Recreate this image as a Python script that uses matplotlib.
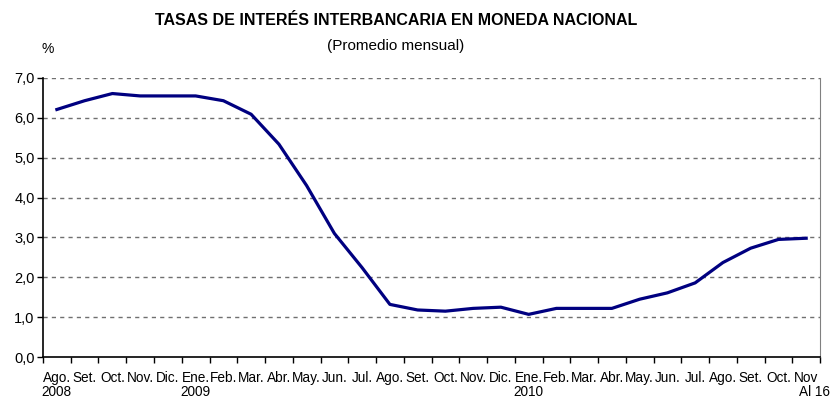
import matplotlib
matplotlib.use("Agg")
import matplotlib.pyplot as plt
import matplotlib.ticker as mticker
import matplotlib.transforms as mtransforms
import numpy as np

plt.rcParams['font.family'] = ['Liberation Sans', 'DejaVu Sans']

# monthly interbank rate, Ago-2008 .. Nov-2010 (al 16)
months = ['Ago.', 'Set.', 'Oct.', 'Nov.', 'Dic.', 'Ene.', 'Feb.', 'Mar.', 'Abr.', 'May.', 'Jun.', 'Jul.',
          'Ago.', 'Set.', 'Oct.', 'Nov.', 'Dic.', 'Ene.', 'Feb.', 'Mar.', 'Abr.', 'May.', 'Jun.', 'Jul.',
          'Ago.', 'Set.', 'Oct.', 'Nov']
years = {0: '2008', 5: '2009', 17: '2010'}
last_note = 'Al 16'
rate = [6.21, 6.43, 6.61, 6.55, 6.55, 6.55, 6.43, 6.09, 5.34, 4.30, 3.10, 2.24,
        1.32, 1.18, 1.15, 1.22, 1.25, 1.07, 1.22, 1.22, 1.22, 1.45, 1.61, 1.86,
        2.37, 2.73, 2.95, 2.98]

fig = plt.figure(figsize=(8.3, 4.01), dpi=100)
ax = fig.add_axes([0.0518, 0.1097, 0.9362, 0.6958])

n = len(rate)
x = np.arange(n) + 0.5
ax.plot(x, rate, color='#000080', lw=2.3, solid_joinstyle='round')

ax.set_xlim(0, n)
ax.set_ylim(0, 7)
ax.yaxis.set_major_locator(mticker.MultipleLocator(1))
ax.yaxis.set_major_formatter(mticker.FuncFormatter(lambda v, p: ('%.1f' % v).replace('.', ',')))
for v in range(1, 8):
    ax.axhline(v, color='#707070', lw=1, ls=(0, (3, 3)), zorder=0)

ax.set_xticks(np.arange(n + 1))
ax.set_xticklabels([])
ax.set_xticks(x, minor=True)
ax.set_xticklabels(months, minor=True)
ax.tick_params(axis='x', which='minor', length=0, pad=10, labelsize=9.8)
ax.tick_params(axis='x', which='major', length=4, direction='out', width=1)
ax.tick_params(axis='y', length=4, direction='out', width=1, labelsize=10.5, pad=2)

for s in ['left', 'bottom']:
    ax.spines[s].set_color('black')
    ax.spines[s].set_linewidth(1.2)
ax.spines['right'].set_color('#808080')
ax.spines['top'].set_visible(False)

trans = mtransforms.blended_transform_factory(ax.transData, ax.transAxes)
for i, yr in years.items():
    ax.text(x[i], -0.1, yr, transform=trans, ha='center', va='top', fontsize=9.8)
ax.text(x[-1] - 0.25, -0.1, last_note, transform=trans, ha='left', va='top', fontsize=9.8, clip_on=False)

fig.text(0.477, 0.948, 'TASAS DE INTERÉS INTERBANCARIA EN MONEDA NACIONAL',
         ha='center', va='center', fontsize=11.5, fontweight='bold')
fig.text(0.477, 0.886, '(Promedio mensual)', ha='center', va='center', fontsize=11)
fig.text(0.057, 0.878, '%', ha='center', va='center', fontsize=10)

fig.savefig('out.png', dpi=100)
